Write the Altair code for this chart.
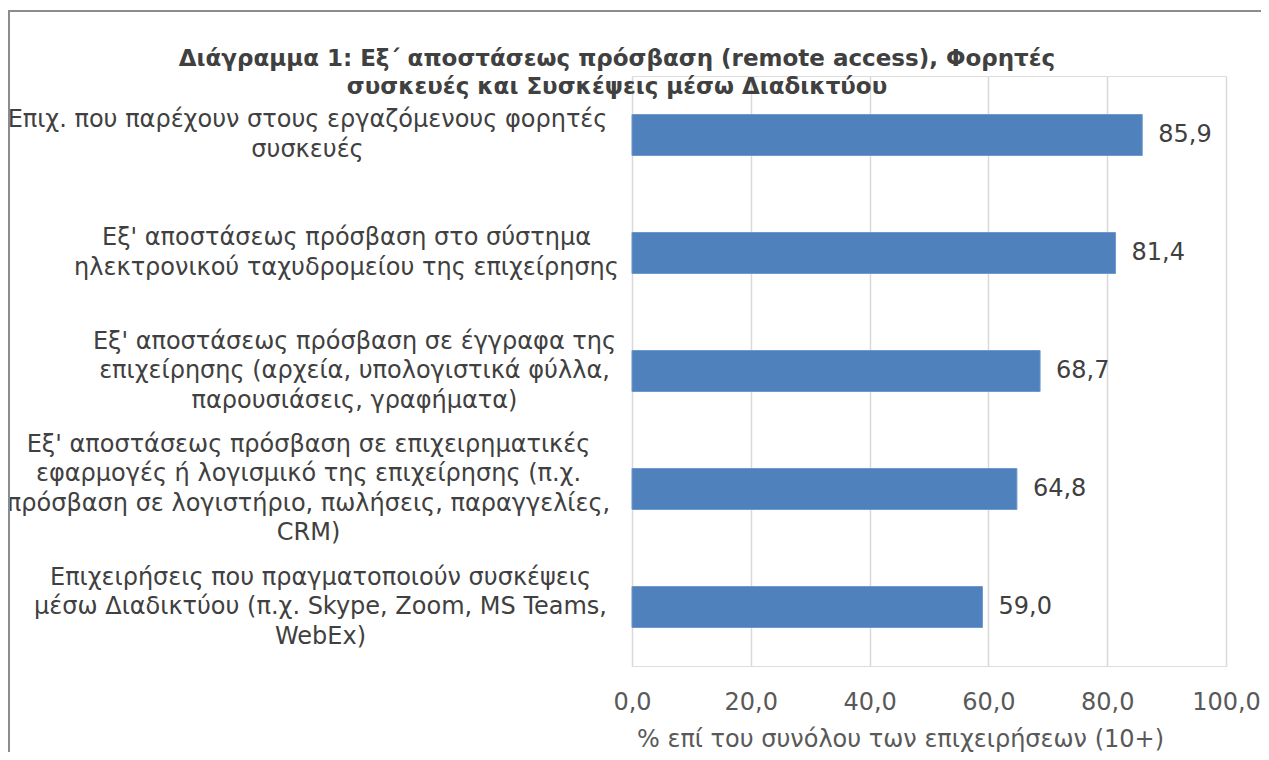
import json
import altair as alt
import pandas as pd

categories = [
    "Επιχ. που παρέχουν στους εργαζόμενους φορητές|συσκευές",
    "Εξ' αποστάσεως πρόσβαση στο σύστημα|ηλεκτρονικού ταχυδρομείου της επιχείρησης",
    "Εξ' αποστάσεως πρόσβαση σε έγγραφα της|επιχείρησης  (αρχεία, υπολογιστικά φύλλα,|παρουσιάσεις, γραφήματα)",
    "Εξ' αποστάσεως πρόσβαση σε επιχειρηματικές|εφαρμογές ή λογισμικό της επιχείρησης (π.χ.|πρόσβαση σε λογιστήριο, πωλήσεις, παραγγελίες,|CRM)",
    "Επιχειρήσεις που πραγματοποιούν συσκέψεις|μέσω Διαδικτύου (π.χ. Skype, Zoom, MS Teams,|WebEx)",
]
values = [85.9, 81.4, 68.7, 64.8, 59.0]
x_ticks = [0, 20, 40, 60, 80, 100]
title_lines = [
    "Διάγραμμα 1: Εξ΄ αποστάσεως πρόσβαση (remote access), Φορητές",
    "συσκευές και Συσκέψεις μέσω Διαδικτύου",
]
x_title = "% επί του συνόλου των επιχειρήσεων (10+)"

# distance of each label block's centre from the plot's left edge
label_pad = [325, 286, 278, 324, 312]
LINE_H = 29.5

df = pd.DataFrame({"cat": categories, "val": values})

FONT = "DejaVu Sans"
W, H = 594, 590


def cond(vals):
    return [
        {"test": f"datum.value === {json.dumps(c, ensure_ascii=False)}", "value": v}
        for c, v in zip(categories, vals)
    ]


n_lines = [len(c.split("|")) for c in categories]
label_off = [-(n - 1) * LINE_H / 2 for n in n_lines]

y_enc = alt.Y(
    "cat:N",
    sort=categories,
    scale=alt.Scale(paddingInner=0.653, paddingOuter=0.3265),
    axis=alt.Axis(
        title=None,
        domain=False,
        ticks=False,
        labelExpr="split(datum.label, '|')",
        labelAlign="center",
        labelBaseline="middle",
        labelPadding={"condition": cond(label_pad), "value": 300},
        labelOffset={"condition": cond(label_off), "value": 0},
        labelFont=FONT,
        labelFontSize=24,
        labelLineHeight=LINE_H,
        labelColor="#404040",
        labelOverlap=False,
        labelLimit=0,
    ),
)

x_enc = alt.X(
    "val:Q",
    scale=alt.Scale(domain=[0, 100], nice=False),
    axis=alt.Axis(
        title=x_title,
        values=x_ticks,
        domain=False,
        ticks=False,
        grid=True,
        gridColor="#D9D9D9",
        gridWidth=1.5,
        labelExpr="replace(format(datum.value, '.1f'), '.', ',')",
        labelFlush=False,
        labelFont=FONT,
        labelFontSize=24,
        labelColor="#595959",
        labelPadding=24,
        titleFont=FONT,
        titleFontSize=24,
        titleFontWeight="normal",
        titleColor="#595959",
        titlePadding=13,
        titleX=268,
        titleAnchor="start",
        titleAlign="center",
    ),
)

bars = alt.Chart(df).mark_bar(color="#4F81BD", stroke="#6E98CC", strokeWidth=1).encode(
    x=x_enc, y=y_enc
)

labels = (
    alt.Chart(df)
    .transform_calculate(txt="replace(format(datum.val, '.1f'), '.', ',')")
    .mark_text(align="left", baseline="middle", dx=16, font=FONT, fontSize=24, color="#404040")
    .encode(x="val:Q", y=alt.Y("cat:N", sort=categories), text="txt:N")
)

frame = (
    alt.Chart(pd.DataFrame({"k": [0]}))
    .mark_rect(fill=None, stroke="#8C8C8C", strokeWidth=2)
    .encode(
        x=alt.value(-623),
        x2=alt.value(700),
        y=alt.value(-65),
        y2=alt.value(720),
    )
)

chart = (
    alt.layer(frame, bars, labels)
    .properties(
        width=W,
        height=H,
        padding={"left": 624, "top": 68, "right": 35, "bottom": 86},
        autosize=alt.AutoSizeParams(type="none"),
        title=alt.TitleParams(
            text=title_lines,
            font=FONT,
            fontSize=23,
            fontWeight="bold",
            color="#404040",
            anchor="middle",
            dx=-312,
            offset=0,
            dy=89,
            lineHeight=28,
        ),
    )
    .configure_view(stroke=None)
    .configure(background="white")
)

chart.save("out.html", embed_options={"renderer": "svg", "actions": False})
